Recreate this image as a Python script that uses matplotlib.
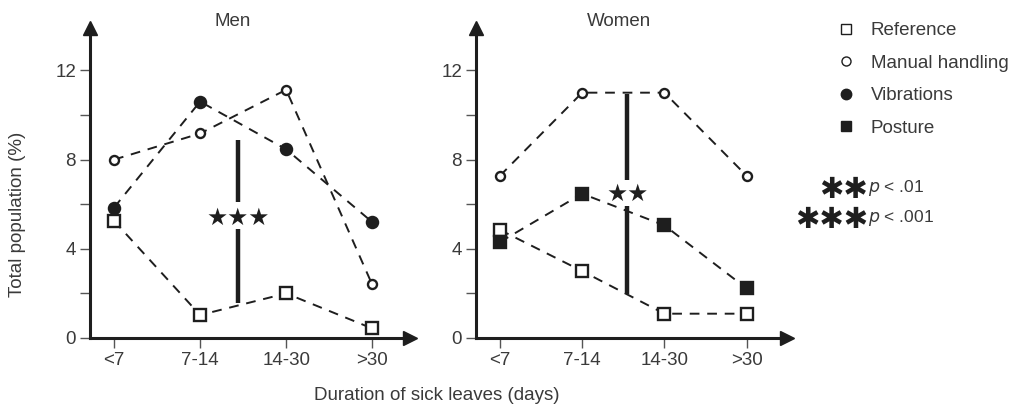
import matplotlib
matplotlib.use("Agg")
import matplotlib.pyplot as plt
from matplotlib.lines import Line2D

plt.rcParams['font.family'] = ['Liberation Sans', 'DejaVu Sans']

# data (percent of total population)
durations = ['<7', '7-14', '14-30', '>30']
men_reference = [5.25, 1.03, 2.0, 0.43]
men_manual = [8.0, 9.17, 11.13, 2.4]
men_vibrations = [5.85, 10.6, 8.46, 5.2]
women_reference = [4.85, 3.0, 1.09, 1.09]
women_manual = [7.27, 11.0, 11.0, 7.27]
women_posture = [4.3, 6.47, 5.05, 2.22]

INK = '#1e1e1e'
TXT = '#3a3a3a'
FS = 13.5

W, H = 1016, 407
fig = plt.figure(figsize=(W / 100, H / 100), dpi=100)


def px_axes(left, right, bottom, top):
    # pixel box -> figure fraction
    return fig.add_axes([left / W, 1 - bottom / H, (right - left) / W, (bottom - top) / H])


def fig_text(xpx, ypx, s, **kw):
    return fig.text(xpx / W, 1 - ypx / H, s, **kw)


def style_axes(ax, xlim):
    ax.set_xlim(*xlim)
    ax.set_ylim(0, 13.9)
    for s in ['top', 'right']:
        ax.spines[s].set_visible(False)
    for s in ['left', 'bottom']:
        ax.spines[s].set_linewidth(2.2)
        ax.spines[s].set_color(INK)
    ax.set_xticks(range(len(durations)))
    ax.set_xticklabels(durations)
    ax.set_yticks([0, 4, 8, 12])
    ax.set_yticks([2, 6, 10], minor=True)
    ax.tick_params(axis='both', which='both', direction='out', length=7, width=1,
                   color='#555555', labelsize=FS, labelcolor=TXT)
    ax.tick_params(axis='x', pad=3)
    ax.tick_params(axis='y', pad=3)
    # arrow heads on the axes
    ax.plot(1, 0, '>', color=INK, ms=10, transform=ax.get_yaxis_transform(), clip_on=False)
    ax.plot(xlim[0], 1, '^', color=INK, ms=10, transform=ax.get_xaxis_transform(), clip_on=False)


def series(ax, vals, marker, filled, ms):
    ax.plot(range(len(vals)), vals, ls=(0, (5, 4)), lw=1.4, color=INK,
            marker=marker, ms=ms, mew=1.7, mec=INK,
            mfc=INK if filled else 'white', clip_on=False, zorder=3)


def sig_bar(ax, x, y0, y1, gap0, gap1, ystar, stars):
    ax.plot([x, x], [y0, gap0], color=INK, lw=3.2, solid_capstyle='butt')
    ax.plot([x, x], [gap1, y1], color=INK, lw=3.2, solid_capstyle='butt')
    ax.text(x, ystar, stars, ha='center', va='center', fontsize=17, color=INK,
            family=['DejaVu Sans'])


# Men
ax1 = px_axes(90, 410, 338, 28)
style_axes(ax1, (-0.28, 3.44))
series(ax1, men_reference, 's', False, 9)
series(ax1, men_manual, 'o', False, 6.5)
series(ax1, men_vibrations, 'o', True, 8)
sig_bar(ax1, 1.445, 1.55, 8.9, 4.9, 6.1, 5.4, '★★★')

# Women
ax2 = px_axes(476, 787, 338, 28)
style_axes(ax2, (-0.29, 3.49))
series(ax2, women_reference, 's', False, 9)
series(ax2, women_manual, 'o', False, 6.5)
series(ax2, women_posture, 's', True, 9)
sig_bar(ax2, 1.55, 1.98, 10.95, 5.9, 7.1, 6.45, '★★')

fig_text(233, 22, 'Men', ha='center', va='center', fontsize=FS, color=TXT)
fig_text(619, 21, 'Women', ha='center', va='center', fontsize=FS, color=TXT)
fig_text(18, 214, 'Total population (%)', ha='center', va='center', rotation=90,
         fontsize=FS, color=TXT)
fig_text(437, 396, 'Duration of sick leaves (days)', ha='center', va='center',
         fontsize=FS, color=TXT)

# legend
handles = [
    Line2D([], [], ls='none', marker='s', ms=7, mfc='white', mec=INK, mew=1),
    Line2D([], [], ls='none', marker='o', ms=6.5, mfc='white', mec=INK, mew=1),
    Line2D([], [], ls='none', marker='o', ms=7.5, mfc=INK, mec=INK),
    Line2D([], [], ls='none', marker='s', ms=7, mfc=INK, mec=INK),
]
labels = ['Reference', 'Manual handling', 'Vibrations', 'Posture']
leg = fig.legend(handles, labels, loc='upper left', bbox_to_anchor=(837 / W, 1 - 22 / H),
                 frameon=False, fontsize=FS, labelspacing=0.82, handlelength=1.0,
                 handletextpad=0.8, borderaxespad=0, borderpad=0)
for t in leg.get_texts():
    t.set_color(TXT)

for ypx, stars, txt in [(190, '✱✱', '< .01'), (220, '✱✱✱', '< .001')]:
    fig_text(868, ypx, stars, ha='right', va='center', fontsize=21,
             color=INK, family=['DejaVu Sans'], weight='bold')
    fig_text(868, ypx - 2, r'$p$ ' + txt, ha='left', va='center', fontsize=FS - 1,
             color=TXT)

fig.savefig('out.png', dpi=100)
